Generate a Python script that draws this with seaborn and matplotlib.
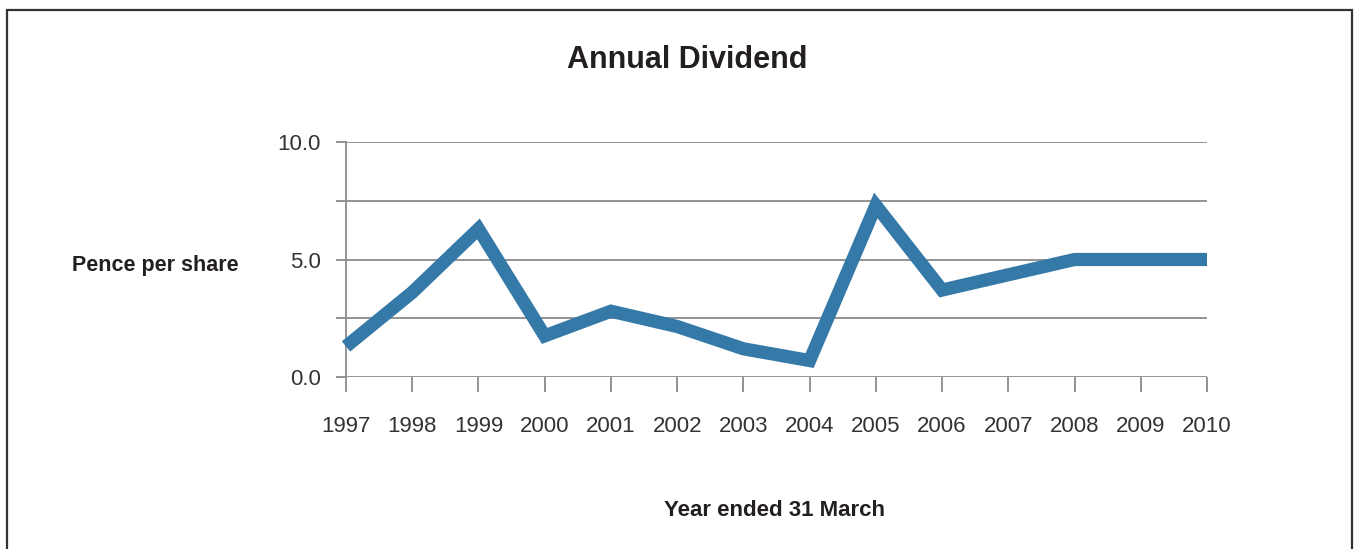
import matplotlib
matplotlib.use("Agg")
import matplotlib.pyplot as plt
from matplotlib.patches import Rectangle
import pandas as pd
import seaborn as sns

# ---------------- Data ----------------
years = [1997, 1998, 1999, 2000, 2001, 2002, 2003, 2004, 2005, 2006, 2007, 2008, 2009, 2010]
pence_per_share = [1.3, 3.6, 6.3, 1.75, 2.8, 2.15, 1.2, 0.7, 7.3, 3.7, 4.35, 5.0, 5.0, 5.0]
y_ticks = [0, 2.5, 5, 7.5, 10]
y_tick_labels = ["0.0", "", "5.0", "", "10.0"]

df = pd.DataFrame({"year": years, "pence": pence_per_share})

sns.set_style("white")
plt.rcParams["font.family"] = ["Liberation Sans", "DejaVu Sans"]

fig = plt.figure(figsize=(13.55, 5.49), dpi=100)
ax = fig.add_axes([346 / 1355, 1 - 377 / 549, (1207 - 346) / 1355, (377 - 142) / 549])

sns.lineplot(data=df, x="year", y="pence", ax=ax, color="#3579a8", linewidth=9.5,
             solid_capstyle="butt", solid_joinstyle="miter", clip_on=False, zorder=3)

grid_col = "#8a8a8a"
ax.set_xlim(1997, 2010)
ax.set_ylim(0, 10)
ax.set_xticks(years)
ax.set_xticklabels([str(y) for y in years])
ax.set_yticks(y_ticks)
ax.set_yticklabels(y_tick_labels)
ax.grid(axis="y", color=grid_col, linewidth=1.3)
ax.grid(axis="x", visible=False)
for side in ["top", "right", "bottom"]:
    ax.spines[side].set_visible(False)
ax.spines["left"].set_color(grid_col)
ax.spines["left"].set_linewidth(1.3)
ax.tick_params(axis="x", bottom=True, length=10.8, width=1.3, color=grid_col, pad=17,
               labelsize=16, labelcolor="#333333")
ax.tick_params(axis="y", left=True, length=7.2, width=1.3, color=grid_col, pad=11,
               labelsize=16, labelcolor="#333333")
ax.set_xlabel("")
ax.set_ylabel("")

fig.text(0.507, 1 - 60 / 549, "Annual Dividend", ha="center", va="center",
         fontsize=22, fontweight="bold", color="#231f20")
fig.text(72 / 1355, 1 - 266 / 549, "Pence per share", ha="left", va="center",
         fontsize=15.5, fontweight="bold", color="#231f20")
fig.text(775 / 1355, 1 - 510 / 549, "Year ended 31 March", ha="center", va="center",
         fontsize=16, fontweight="bold", color="#231f20")

# frame round the whole chart (bottom edge is cut off in the original)
fig.patches.append(Rectangle((7 / 1355, -0.05), (1352 - 7) / 1355, 1.05 - 10 / 549,
                             transform=fig.transFigure, fill=False,
                             edgecolor="#333333", linewidth=1.6))

fig.savefig("out.png", dpi=100)
